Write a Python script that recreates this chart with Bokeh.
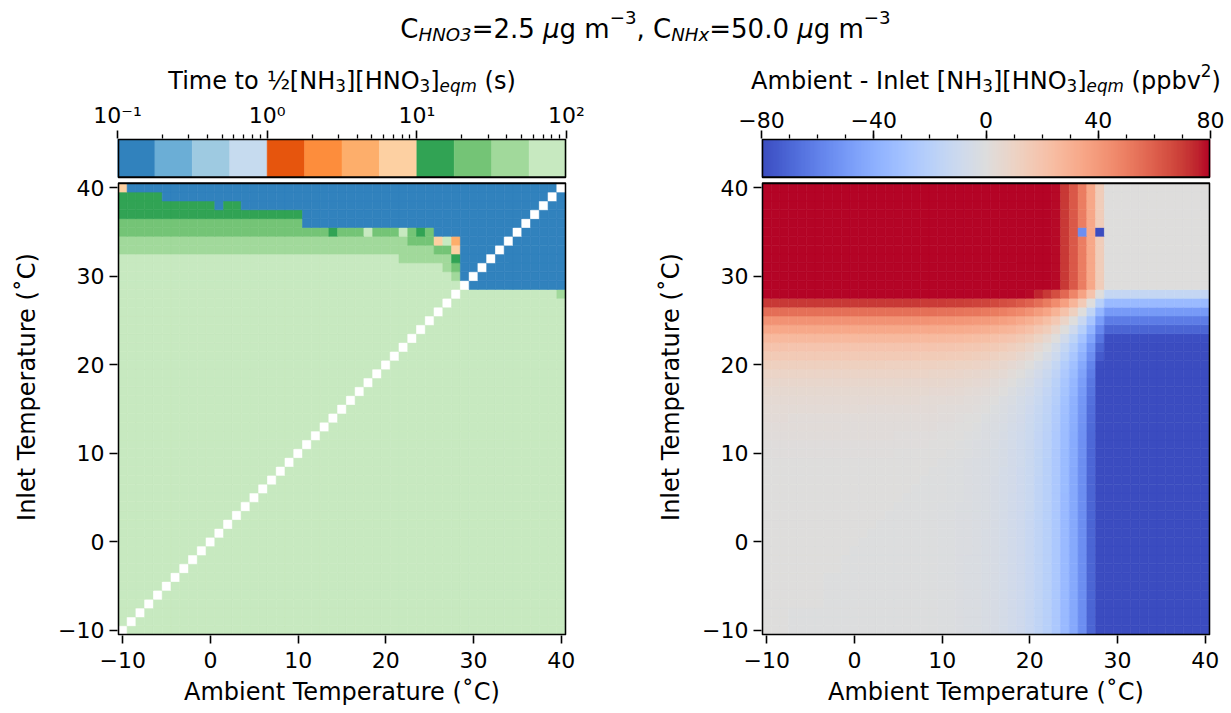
import numpy as np
from bokeh.plotting import figure
from bokeh.models import (ColumnDataSource, LinearColorMapper, LogColorMapper, Label,
                          FixedTicker, Range1d, LogAxis, LinearAxis, LogScale, LinearScale,
                          BoxAnnotation)
from bokeh.transform import transform
from bokeh.layouts import column, row
from bokeh.embed import file_html
from bokeh.resources import INLINE

# ---------------------------------------------------------------- data
ambient_temp_C = list(range(-10, 41))
inlet_temp_C = list(range(-10, 41))

# representative time (s) of each colour bin
time_bin_seconds = {"B": 0.13, "D": 13.0, "M": 24.0, "L": 42.0, "P": 75.0,
                    "p": 7.5, "o": 4.2, ".": float("nan")}

# run-length rows (ambient -10 .. 40) for each inlet temperature
time_rows = {
    40: "p1 B49 .1",
    39: "D5 B44 .1 B1",
    38: "D11 B1 D2 B34 .1 B2",
    37: "D21 B26 .1 B3",
    36: "M21 B25 .1 B4",
    35: "M24 D1 M3 P1 M3 P1 M1 D1 M1 B9 .1 B5",
    34: "L33 M3 p1 P1 o1 B5 .1 B6",
    33: "L36 M2 p1 B4 .1 B7",
    32: "P32 L6 D1 B3 .1 B8",
    31: "P37 L1 M1 B2 .1 B9",
    30: "P38 L1 B1 .1 B10",
    29: "P39 .1 B11",
    28: "P38 .1 P11 L1",
    27: "P37 .1 P13", 26: "P36 .1 P14", 25: "P35 .1 P15", 24: "P34 .1 P16",
    23: "P33 .1 P17", 22: "P32 .1 P18", 21: "P31 .1 P19", 20: "P30 .1 P20",
    19: "P29 .1 P21", 18: "P28 .1 P22", 17: "P27 .1 P23", 16: "P26 .1 P24",
    15: "P25 .1 P25", 14: "P24 .1 P26", 13: "P23 .1 P27", 12: "P22 .1 P28",
    11: "P21 .1 P29", 10: "P20 .1 P30", 9: "P19 .1 P31", 8: "P18 .1 P32",
    7: "P17 .1 P33", 6: "P16 .1 P34", 5: "P15 .1 P35", 4: "P14 .1 P36",
    3: "P13 .1 P37", 2: "P12 .1 P38", 1: "P11 .1 P39", 0: "P10 .1 P40",
    -1: "P9 .1 P41", -2: "P8 .1 P42", -3: "P7 .1 P43", -4: "P6 .1 P44",
    -5: "P5 .1 P45", -6: "P4 .1 P46", -7: "P3 .1 P47", -8: "P2 .1 P48",
    -9: "P1 .1 P49", -10: ".1 P50",
}

# [NH3][HNO3]eqm (ppbv^2) at each temperature -10 .. 40
eqm_product_ppbv2 = [
    0.0, 0.0, 0.0, 0.01, 0.01, 0.01, 0.01, 0.02, 0.02, 0.03,
    0.05, 0.06, 0.08, 0.1, 0.13, 0.2, 0.25, 0.33, 0.46, 0.6,
    0.8, 1.1, 1.4, 1.9, 2.5, 3.2, 4.2, 5.5, 7.1, 9.3,
    12, 16, 20, 26, 34, 43, 55, 71, 91,
    105, 105, 105, 105, 105, 105, 105, 105, 105, 105, 105, 105,
]
anomaly_ambient_C = [26, 28]
anomaly_inlet_C = [35, 35]
anomaly_diff_ppbv2 = [-55.0, -90.0]

time_palette = ["#3182bd", "#6baed6", "#9ecae1", "#c6dbef",
                "#e6550d", "#fd8d3c", "#fdae6b", "#fdd0a2",
                "#31a354", "#74c476", "#a1d99b", "#c7e9c0"]
time_ticks = [0.1, 1, 10, 100]
time_tick_labels = ["10\u207b\u00b9", "10\u2070", "10\u00b9", "10\u00b2"]
diff_ticks = [-80, -40, 0, 40, 80]
temp_ticks = [-10, 0, 10, 20, 30, 40]

# coolwarm anchors (styling)
_cw = [(59, 76, 192), (68, 90, 204), (77, 104, 215), (87, 117, 225), (98, 130, 234),
       (108, 142, 241), (119, 154, 247), (130, 165, 251), (141, 176, 254), (152, 185, 255),
       (163, 194, 255), (174, 201, 253), (184, 208, 249), (194, 213, 244), (204, 217, 238),
       (213, 219, 230), (221, 221, 221), (229, 216, 209), (236, 211, 197), (241, 204, 184),
       (245, 196, 173), (247, 187, 160), (247, 177, 148), (247, 166, 135), (244, 154, 123),
       (241, 141, 111), (236, 127, 99), (229, 112, 88), (222, 96, 77), (213, 80, 66),
       (203, 62, 56), (192, 40, 47), (180, 4, 38)]


def _coolwarm(n=256):
    a = np.array(_cw, dtype=float)
    pos = np.linspace(0, 1, len(a))
    out = []
    for t in np.linspace(0, 1, n):
        c = [np.interp(t, pos, a[:, k]) for k in range(3)]
        out.append("#%02x%02x%02x" % tuple(int(round(v)) for v in c))
    return out


coolwarm = _coolwarm()

# ---------------------------------------------------------------- sources
xs, ys, ts, ds = [], [], [], []
eq = dict(zip(ambient_temp_C, eqm_product_ppbv2))
over = {(a, i): d for a, i, d in zip(anomaly_ambient_C, anomaly_inlet_C, anomaly_diff_ppbv2)}
for inl in inlet_temp_C:
    vals = []
    for tok in time_rows[inl].split():
        vals += [time_bin_seconds[tok[0]]] * int(tok[1:])
    assert len(vals) == len(ambient_temp_C), inl
    for amb, v in zip(ambient_temp_C, vals):
        xs.append(amb)
        ys.append(inl)
        ts.append(v)
        ds.append(over.get((amb, inl), eq[inl] - eq[amb]))

src = ColumnDataSource(dict(x=np.array(xs, float), y=np.array(ys, float),
                            t=np.array(ts, float), d=np.array(ds, float)))

tmap = LogColorMapper(palette=time_palette, low=0.1, high=100, nan_color="white")
dmap = LinearColorMapper(palette=coolwarm, low=-80, high=80, nan_color="white")

FONT = "DejaVu Sans"
TICK_PX = 22
LAB_PX = 24
LW = 1.8

CW = {' ': .318, '(': .390, ')': .390, ',': .318, '-': .361, '.': .318, '=': .838,
      '[': .390, ']': .390, 'A': .684, 'C': .698, 'H': .752, 'I': .295, 'N': .748,
      'O': .787, 'T': .611, 'a': .613, 'b': .635, 'e': .615, 'g': .635, 'i': .278,
      'l': .278, 'm': .974, 'n': .634, 'o': .612, 'p': .635, 'q': .635, 'r': .411,
      's': .521, 't': .392, 'u': .634, 'v': .592, 'x': .592, '\u00b5': .636,
      '\u2212': .838, '\u00bd': .95}


def tw(s, px):
    return sum(CW.get(ch, .636) for ch in s) * px


def rich(p, segs, cx, y, px):
    """segs: (text, style, scale, dy_em); data units == page pixels"""
    widths = [tw(t, px * sc) for t, st, sc, dy in segs]
    x = cx - sum(widths) / 2
    for (t, st, sc, dy), w in zip(segs, widths):
        core = t.lstrip(" ")
        lead = tw(t[:len(t) - len(core)], px * sc)
        p.add_layout(Label(x=x + lead, y=y + dy * px, text=core,
                           text_font=FONT, text_font_size="%.1fpx" % (px * sc),
                           text_font_style=st, text_baseline="alphabetic",
                           text_align="left", text_color="black"))
        x += w


def style_axis(ax):
    ax.major_label_text_font = FONT
    ax.major_label_text_font_size = "%dpx" % TICK_PX
    ax.major_label_text_color = "black"
    ax.axis_label_text_font = FONT
    ax.axis_label_text_font_size = "%dpx" % LAB_PX
    ax.axis_label_text_font_style = "normal"
    ax.axis_label_text_color = "black"
    ax.major_tick_out = 8
    ax.major_tick_in = 0
    ax.minor_tick_in = 0
    ax.minor_tick_out = 0
    ax.major_tick_line_width = 1.6
    ax.major_tick_line_color = "black"
    ax.axis_line_color = None


def minus(v):
    return ("\u2212%g" % abs(v)) if v < 0 else "%g" % v


# ---------------------------------------------------------------- title strip
TOP_H = 96
tf = figure(width=1231, height=TOP_H, x_range=Range1d(0, 1231), y_range=Range1d(0, TOP_H),
            toolbar_location=None, output_backend="svg", min_border=0, tools="")
tf.axis.visible = False
tf.grid.visible = False
tf.outline_line_color = None
sub = -0.22
sup = 0.42
rich(tf, [("C", "normal", 1, 0), ("HNO3", "italic", .7, sub), ("=2.5 ", "normal", 1, 0),
          ("\u00b5", "italic", 1, 0), ("g m", "normal", 1, 0), ("\u22123", "normal", .7, sup),
          (", C", "normal", 1, 0), ("NHx", "italic", .7, sub), ("=50.0 ", "normal", 1, 0),
          ("\u00b5", "italic", 1, 0), ("g m", "normal", 1, 0), ("\u22123", "normal", .7, sup)],
     cx=645, y=TOP_H - 28, px=26)
rich(tf, [("Time to ", "normal", 1, 0), ("\u00bd", "normal", 1, 0), ("[NH", "normal", 1, 0),
          ("3", "normal", .7, sub), ("][HNO", "normal", 1, 0), ("3", "normal", .7, sub),
          ("]", "normal", 1, 0), ("eqm", "italic", .7, sub), (" (s)", "normal", 1, 0)],
     cx=341.5, y=TOP_H - 80, px=LAB_PX)
rich(tf, [("Ambient - Inlet [NH", "normal", 1, 0), ("3", "normal", .7, sub),
          ("][HNO", "normal", 1, 0), ("3", "normal", .7, sub), ("]", "normal", 1, 0),
          ("eqm", "italic", .7, sub), (" (ppbv", "normal", 1, 0), ("2", "normal", .7, sup),
          (")", "normal", 1, 0)],
     cx=985.5, y=TOP_H - 80, px=LAB_PX)

# ---------------------------------------------------------------- panels
PPU = 453 / 51.0                 # pixels per degree in the heatmap
YTOP = 40.5 + 44 / PPU           # frame top = colour-bar top
CB_BOT = YTOP - 38 / PPU         # colour-bar bottom
PAD = 0.1


def panel(width, left, right, cb_range, cb_scale):
    p = figure(width=width, height=713 - TOP_H,
               x_range=Range1d(-10.5 - PAD, 40.5 + PAD),
               y_range=Range1d(-10.5 - PAD, YTOP + PAD),
               toolbar_location=None, output_backend="svg", tools="",
               min_border_left=left, min_border_right=right,
               min_border_top=138 - TOP_H, min_border_bottom=78)
    p.extra_x_ranges = {"cb": cb_range}
    p.extra_x_scales = {"cb": cb_scale}
    p.grid.visible = False
    p.outline_line_color = None
    p.background_fill_color = "white"
    p.border_fill_color = "white"
    return p


pl = panel(640, 117, 74, Range1d(0.1, 100), LogScale())
pr = panel(591, 121, 21, Range1d(-80, 80), LinearScale())

# heatmaps
pl.rect(x="x", y="y", width=1, height=1, source=src,
        fill_color=transform("t", tmap), line_color=transform("t", tmap), line_width=0.6)
pr.rect(x="x", y="y", width=1, height=1, source=src,
        fill_color=transform("d", dmap), line_color=transform("d", dmap), line_width=0.6)

# colour bars
edges = [10 ** (-1 + k / 4) for k in range(13)]
cen = [10 ** (-1 + (k + 0.5) / 4) for k in range(12)]
pl.quad(left="l", right="r", bottom=CB_BOT, top=YTOP, x_range_name="cb",
        fill_color=transform("c", tmap), line_color=transform("c", tmap), line_width=0.5,
        source=ColumnDataSource(dict(l=edges[:-1], r=edges[1:], c=cen)))
grad = np.linspace(-80, 80, 400).reshape(1, -1)
pr.image(image=[grad], x=-80, y=CB_BOT, dw=160, dh=YTOP - CB_BOT, x_range_name="cb",
         color_mapper=dmap)

minors_log = [m * 10.0 ** e for e in (-1, 0, 1) for m in range(2, 10)]
cax_l = LogAxis(x_range_name="cb", ticker=FixedTicker(ticks=time_ticks, minor_ticks=minors_log))
cax_l.major_label_overrides = {t: l for t, l in zip(time_ticks, time_tick_labels)}
cax_r = LinearAxis(x_range_name="cb",
                   ticker=FixedTicker(ticks=diff_ticks, minor_ticks=list(range(-70, 80, 10))))
cax_r.major_label_overrides = {t: minus(t) for t in diff_ticks}
for p, cax in ((pl, cax_l), (pr, cax_r)):
    style_axis(cax)
    cax.minor_tick_out = 4
    cax.minor_tick_line_width = 1.3
    cax.minor_tick_line_color = "black"
    cax.major_label_standoff = 3
    p.add_layout(cax, "above")

for p in (pl, pr):
    bx = p.below[0]
    ly = p.left[0]
    for ax in (bx, ly):
        style_axis(ax)
        ax.ticker = FixedTicker(ticks=temp_ticks)
        ax.major_label_overrides = {t: minus(t) for t in temp_ticks}
    bx.axis_label = "Ambient Temperature (\u02daC)"
    ly.axis_label = "Inlet Temperature (\u02daC)"
    bx.major_label_standoff = 8
    bx.axis_label_standoff = 7
    ly.axis_label_standoff = 14
    # frames of heatmap and colour bar
    p.add_layout(BoxAnnotation(left=-10.5, right=40.5, bottom=-10.5, top=40.5,
                               fill_color=None, line_color="black", line_alpha=1.0,
                               line_width=LW))
    p.add_layout(BoxAnnotation(left=-10.5, right=40.5, bottom=CB_BOT, top=YTOP,
                               fill_color=None, line_color="black", line_alpha=1.0,
                               line_width=LW))

layout = column(tf, row(pl, pr))
open("out.html", "w").write(file_html(layout, INLINE))
